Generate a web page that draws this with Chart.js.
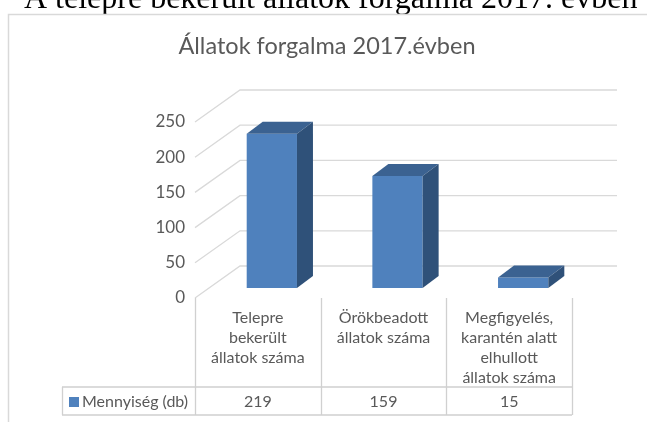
<!DOCTYPE html>
<html>
<head>
<meta charset="utf-8">
<script src="https://cdn.jsdelivr.net/npm/chart.js@4/dist/chart.umd.min.js"></script>
<style>
  body { margin: 0; background: #fff; }
  canvas { display: block; }
</style>
</head>
<body>
<canvas id="mychart1" width="647" height="422"></canvas>
<script>
const categorias = [
    ["Telepre", "bekerült", "állatok száma"],
    ["Örökbeadott", "állatok száma"],
    ["Megfigyelés,", "karantén alatt", "elhullott", "állatok száma"]
]
const mennyiseg = [219, 159, 15]
const sorozatNev = "Mennyiség (db)"
const yTicks = [0, 50, 100, 150, 200, 250]
const cim = "Állatok forgalma 2017.évben"
const fejlec = "A telepre bekerült állatok forgalma 2017. évben"

const szurke = "#595959"
const racs = "#d9d9d9"
const betu = "'Lato', 'Open Sans', sans-serif"

// eltolások: elülső sík és hátsó fal a hasábok síkjához képest
const elol = { x: -14, y: 10 }
const hatul = { x: 31, y: -22 }
const mely = { x: 16, y: -12 }

const harom = {
    id: "harom",
    beforeDatasetsDraw(chart) {
        const ctx = chart.ctx
        const area = chart.chartArea
        const y = chart.scales.y
        ctx.save()
        // fejléc és keret
        ctx.fillStyle = "#000"
        ctx.font = "32px 'Liberation Serif', serif"
        ctx.textAlign = "left"
        ctx.textBaseline = "alphabetic"
        ctx.fillText(fejlec, 24, 8)
        ctx.strokeStyle = racs
        ctx.lineWidth = 1.5
        ctx.strokeRect(8.5, 14.5, 700, 500)

        ctx.fillStyle = szurke
        ctx.font = "23.5px " + betu
        ctx.textAlign = "center"
        ctx.fillText(cim, 327, 54)

        // rácsvonalak a falon
        ctx.strokeStyle = racs
        ctx.lineWidth = 1.3
        yTicks.forEach(v => {
            let py = y.getPixelForValue(v)
            ctx.beginPath()
            ctx.moveTo(area.left + elol.x, py + elol.y)
            ctx.lineTo(area.left + hatul.x, py + hatul.y)
            ctx.lineTo(area.right + hatul.x, py + hatul.y)
            ctx.stroke()
            ctx.fillStyle = szurke
            ctx.font = "17px " + betu
            ctx.textAlign = "right"
            ctx.textBaseline = "middle"
            ctx.fillText(String(v), 185, py + elol.y)
        })
        ctx.restore()
    },
    afterDatasetsDraw(chart) {
        const ctx = chart.ctx
        const area = chart.chartArea
        const meta = chart.getDatasetMeta(0)
        ctx.save()
        meta.data.forEach(bar => {
            let l = bar.x - bar.width / 2
            let r = bar.x + bar.width / 2
            let t = bar.y
            let b = bar.base
            // teteje
            ctx.fillStyle = "#3b6291"
            ctx.beginPath()
            ctx.moveTo(l, t)
            ctx.lineTo(r, t)
            ctx.lineTo(r + mely.x, t + mely.y)
            ctx.lineTo(l + mely.x, t + mely.y)
            ctx.closePath()
            ctx.fill()
            // oldala
            ctx.fillStyle = "#2f5179"
            ctx.beginPath()
            ctx.moveTo(r, t)
            ctx.lineTo(r + mely.x, t + mely.y)
            ctx.lineTo(r + mely.x, b + mely.y)
            ctx.lineTo(r, b)
            ctx.closePath()
            ctx.fill()
        })

        // adattábla
        const bottomFront = area.bottom + elol.y
        const n = categorias.length
        const w = (area.right - area.left) / n
        const sorTeteje = 387
        const sorAlja = 415
        const tablaBal = 62
        ctx.strokeStyle = "#d0d0d0"
        ctx.lineWidth = 1.3
        for (let i = 0; i <= n; i++) {
            let px = Math.round(area.left + elol.x + i * w) + 0.5
            ctx.beginPath()
            ctx.moveTo(px, bottomFront)
            ctx.lineTo(px, sorAlja)
            ctx.stroke()
        }
        ctx.beginPath()
        ctx.moveTo(tablaBal, sorTeteje)
        ctx.lineTo(area.right + elol.x, sorTeteje)
        ctx.moveTo(tablaBal, sorAlja)
        ctx.lineTo(area.right + elol.x, sorAlja)
        ctx.moveTo(tablaBal + 0.5, sorTeteje)
        ctx.lineTo(tablaBal + 0.5, sorAlja)
        ctx.stroke()

        ctx.fillStyle = szurke
        ctx.font = "16px " + betu
        ctx.textAlign = "center"
        ctx.textBaseline = "middle"
        categorias.forEach((sorok, i) => {
            let cx = area.left + elol.x + (i + 0.5) * w
            sorok.forEach((s, j) => {
                ctx.fillText(s, cx, 318 + j * 20)
            })
            ctx.fillText(String(mennyiseg[i]), cx, 402)
        })
        // jelmagyarázat
        ctx.fillStyle = "#4f81bd"
        ctx.fillRect(69, 397, 10, 10)
        ctx.fillStyle = szurke
        ctx.textAlign = "left"
        ctx.fillText(sorozatNev, 82, 402)
        ctx.restore()
    }
}

window.onload = function () {
    const data = {
        labels: categorias,
        datasets: [{
            label: sorozatNev,
            data: mennyiseg,
            backgroundColor: "#4f81bd",
            borderWidth: 0,
            barPercentage: 0.4,
            categoryPercentage: 1
        }]
    }
    const config = {
        type: "bar",
        data,
        options: {
            responsive: false,
            animation: false,
            layout: {
                padding: { left: 209, right: 61, top: 112, bottom: 134 }
            },
            scales: {
                x: { display: false },
                y: { display: false, min: 0, max: 250, ticks: { stepSize: 50 } }
            },
            plugins: {
                legend: { display: false },
                title: { display: false },
                tooltip: { enabled: false }
            }
        },
        plugins: [harom]
    }
    let chart1 = new Chart(document.getElementById("mychart1"), config)
}
</script>
</body>
</html>
